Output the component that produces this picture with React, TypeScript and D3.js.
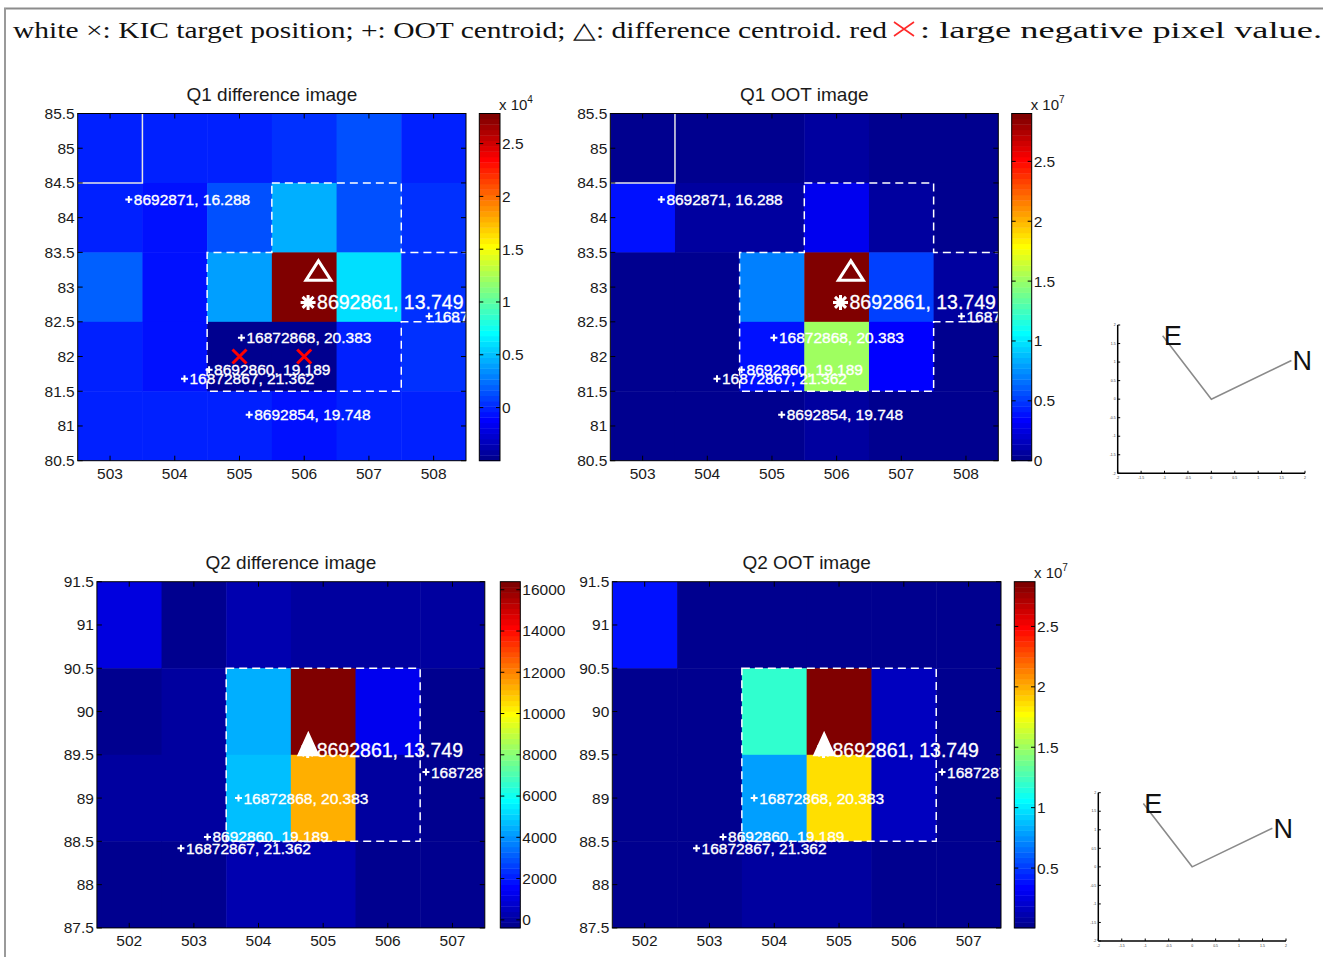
import React from 'react';
import * as d3 from 'd3';

// ---------- data ----------
const TITLE_PART1 = 'white \u00d7: KIC target position; +: OOT centroid; \u25b3: difference centroid. red';
const TITLE_PART2 = ': large negative pixel value.';

const Q1_COLS = [503, 504, 505, 506, 507, 508];
const Q1_ROWS = [85, 84, 83, 82, 81];
const Q1_YTICKS = [80.5, 81, 81.5, 82, 82.5, 83, 83.5, 84, 84.5, 85, 85.5];

const Q1_DIFF = [
  [-100, -300, -200, 200, 1200, -200],
  [-300, -500, 1135, 4320, 1440, 210],
  [1800, -920, 4060, 27850, 6270, 520],
  [-400, -700, -4520, -5030, -100, 500],
  [-400, 0, -400, -900, -300, -300],
];
const Q1_OOT = [
  [0.03e7, 0.03e7, 0.03e7, 0.06e7, 0.03e7, 0.02e7],
  [0.40e7, 0.06e7, 0.05e7, 0.30e7, 0.08e7, 0.04e7],
  [0.02e7, 0.03e7, 0.68e7, 2.90e7, 0.50e7, 0.06e7],
  [0.02e7, 0.03e7, 0.38e7, 1.53e7, 0.34e7, 0.04e7],
  [0.01e7, 0.02e7, 0.03e7, 0.05e7, 0.03e7, 0.0],
];

const Q2_COLS = [502, 503, 504, 505, 506, 507];
const Q2_ROWS = [91, 90, 89, 88];
const Q2_YTICKS = [87.5, 88, 88.5, 89, 89.5, 90, 90.5, 91, 91.5];

const Q2_DIFF = [
  [950, -390, 150, 60, -120, -120],
  [-380, 60, 4570, 16390, 1370, -300],
  [60, 0, 4600, 11230, 0, -200],
  [-200, -300, 300, 300, -300, -300],
];
const Q2_OOT = [
  [0.40e7, 0.04e7, 0.03e7, 0.03e7, 0.02e7, 0.02e7],
  [0.03e7, 0.02e7, 1.21e7, 2.87e7, 0.18e7, 0.02e7],
  [0.03e7, 0.02e7, 0.81e7, 1.85e7, 0.18e7, 0.02e7],
  [0.005e7, 0.02e7, 0.05e7, 0.09e7, 0.02e7, 0.01e7],
];

const Q1_DIFF_TICKS = [0, 0.5, 1, 1.5, 2, 2.5];
const Q1_OOT_TICKS = [0, 0.5, 1, 1.5, 2, 2.5];
const Q2_DIFF_TICKS = [0, 2000, 4000, 6000, 8000, 10000, 12000, 14000, 16000];
const Q2_OOT_TICKS = [0.5, 1, 1.5, 2, 2.5];

const Q1_STARS = [
  { kic: '8692871', mag: '16.288', x: 503.29, y: 84.26 },
  { kic: '16872868', mag: '20.383', x: 505.03, y: 82.27 },
  { kic: '8692860', mag: '19.189', x: 504.53, y: 81.81 },
  { kic: '16872867', mag: '21.362', x: 504.15, y: 81.68 },
  { kic: '8692854', mag: '19.748', x: 505.15, y: 81.16 },
  { kic: '16872872', mag: '20.520', x: 507.93, y: 82.58 },
];
const Q1_TARGET = { kic: '8692861', mag: '13.749', x: 506.06, y: 82.78 };
const Q1_CENTROID = { x: 506.22, y: 83.22 };
const Q1_NEG = [{ x: 505, y: 82 }, { x: 506, y: 82 }];
const Q1_MASK_EDGE = [[502.5, 84.5], [503.5, 84.5], [503.5, 85.5]];
const Q1_APERTURE = [
  [505.5, 84.5], [507.5, 84.5], [507.5, 83.5], [509.5, 83.5], [509.5, 82.5],
  [507.5, 82.5], [507.5, 81.5], [504.5, 81.5], [504.5, 83.5], [505.5, 83.5],
];

const Q2_STARS = [
  { kic: '16872868', mag: '20.383', x: 503.69, y: 89.0 },
  { kic: '8692860', mag: '19.189', x: 503.21, y: 88.55 },
  { kic: '16872867', mag: '21.362', x: 502.8, y: 88.42 },
  { kic: '16872872', mag: '20.520', x: 506.59, y: 89.3 },
];
const Q2_TARGET = { kic: '8692861', mag: '13.749', x: 504.76, y: 89.55 };
const Q2_CENTROID = { x: 504.77, y: 89.6 };
const Q2_APERTURE = [[503.5, 90.5], [506.5, 90.5], [506.5, 88.5], [503.5, 88.5]];

const COMPASS_TICKS = [-2, -1.5, -1, -0.5, 0, 0.5, 1, 1.5, 2];
const COMPASS_E = [-1.04, 1.71];
const COMPASS_N = [1.71, 1.04];

// ---------- helpers ----------
function jetColormap(m: number): string[] {
  const n = Math.ceil(m / 4);
  const u: number[] = [];
  for (let i = 1; i <= n; i++) u.push(i / n);
  for (let i = 1; i <= n - 1; i++) u.push(1);
  for (let i = n; i >= 1; i--) u.push(i / n);
  const g0 = Math.ceil(n / 2) - (m % 4 === 1 ? 1 : 0);
  const r = new Array(m).fill(0), g = new Array(m).fill(0), b = new Array(m).fill(0);
  u.forEach((val, i) => {
    const gi = g0 + i, ri = gi + n, bi = gi - n;
    if (gi >= 0 && gi < m) g[gi] = val;
    if (ri >= 0 && ri < m) r[ri] = val;
    if (bi >= 0 && bi < m) b[bi] = val;
  });
  return r.map((_, i) => d3.rgb(r[i] * 255, g[i] * 255, b[i] * 255).formatHex());
}
const JET = jetColormap(64);

const SANS = '"Liberation Sans", Arial, Helvetica, sans-serif';
const SERIF = '"Liberation Serif", "Times New Roman", serif';
const TXT = '#1a1a1a';

type Star = { kic: string; mag: string; x: number; y: number };

interface PanelProps {
  id: string;
  title: string;
  left: number; right: number; top: number; bottom: number;
  cbLeft: number; cbRight: number;
  cols: number[]; rows: number[]; yTicks: number[];
  values: number[][];
  cbTicks: number[]; cbScale: number; expo?: string;
  stars: Star[]; target: Star; centroid: { x: number; y: number };
  centroidFilled?: boolean;
  neg?: { x: number; y: number }[];
  maskEdge?: number[][];
  aperture: number[][];
}

function Panel(p: PanelProps) {
  const x = d3.scaleLinear().domain([p.cols[0] - 0.5, p.cols[p.cols.length - 1] + 0.5]).range([p.left, p.right]);
  const y = d3.scaleLinear().domain([p.rows[p.rows.length - 1] - 0.5, p.rows[0] + 0.5]).range([p.bottom, p.top]);
  const flat = p.values.flat();
  const [vmin, vmax] = d3.extent(flat) as [number, number];
  const color = d3.scaleQuantize<string>().domain([vmin, vmax]).range(JET);
  const cb = d3.scaleLinear().domain([vmin, vmax]).range([p.bottom, p.top]);
  const levels = d3.range(JET.length);
  const line = d3.line<number[]>().x((d) => x(d[0])).y((d) => y(d[1]));
  const tl = 5;
  const clipId = `clip-${p.id}`;
  const cx = x(p.centroid.x), cy = y(p.centroid.y);
  const tx = x(p.target.x), ty = y(p.target.y);
  return (
    <g>
      <defs>
        <clipPath id={clipId}>
          <rect x={p.left} y={p.top} width={p.right - p.left} height={p.bottom - p.top} />
        </clipPath>
      </defs>
      <text x={(p.left + p.right) / 2} y={p.top - 13} textAnchor="middle" fontFamily={SANS} fontSize={19} fill={TXT}>{p.title}</text>
      <g clipPath={`url(#${clipId})`}>
        {p.values.map((row, ri) =>
          row.map((v, ci) => (
            <rect key={`${ri}-${ci}`} x={x(p.cols[ci] - 0.5)} y={y(p.rows[ri] + 0.5)}
              width={x(p.cols[ci] + 0.5) - x(p.cols[ci] - 0.5) + 0.5}
              height={y(p.rows[ri] - 0.5) - y(p.rows[ri] + 0.5) + 0.5}
              fill={color(v)} />
          ))
        )}
        {p.maskEdge && <path d={line(p.maskEdge) || ''} fill="none" stroke="#e6e6e6" strokeWidth={1.5} />}
        <path d={(line(p.aperture) || '') + 'Z'} fill="none" stroke="#ffffff" strokeWidth={1.5} strokeDasharray="8,5" />
        {p.stars.map((s, i) => (
          <g key={i}>
            <path d={`M${x(s.x) - 3.5},${y(s.y)}h7M${x(s.x)},${y(s.y) - 3.5}v7`} stroke="#fff" strokeWidth={2} />
            <text x={x(s.x) + 5} y={y(s.y)} dy="0.35em" fontFamily={SANS} fontSize={15.5} fill="#fff" stroke="#fff" strokeWidth={0.35}>{`${s.kic}, ${s.mag}`}</text>
          </g>
        ))}
        {p.centroidFilled ? (
          <path d={`M${cx},${cy - 13}L${cx + 10},${cy + 9}L${cx - 10},${cy + 9}Z`} fill="#fff" stroke="#fff" strokeWidth={2} />
        ) : (
          <path d={`M${cx},${cy - 11}L${cx + 12.5},${cy + 8.5}L${cx - 12.5},${cy + 8.5}Z`} fill="none" stroke="#fff" strokeWidth={3} strokeLinejoin="miter" />
        )}
        <path d={`M${tx - 7.5},${ty}H${tx + 7.5}M${tx},${ty - 7.5}V${ty + 7.5}M${tx - 5.5},${ty - 5.5}L${tx + 5.5},${ty + 5.5}M${tx - 5.5},${ty + 5.5}L${tx + 5.5},${ty - 5.5}`} stroke="#fff" strokeWidth={3} />
        <text x={tx + 9} y={ty} dy="0.35em" fontFamily={SANS} fontSize={19.5} fill="#fff" stroke="#fff" strokeWidth={0.3}>{`${p.target.kic}, ${p.target.mag}`}</text>
        {p.neg && p.neg.map((n, i) => {
          const nx = x(n.x), ny = y(n.y);
          return <path key={i} d={`M${nx - 7},${ny - 7}L${nx + 7},${ny + 7}M${nx - 7},${ny + 7}L${nx + 7},${ny - 7}`} stroke="#ff0000" strokeWidth={3} />;
        })}
      </g>
      <rect x={p.left} y={p.top} width={p.right - p.left} height={p.bottom - p.top} fill="none" stroke="#000" strokeWidth={1} />
      {p.cols.map((c) => (
        <g key={c}>
          <line x1={x(c)} x2={x(c)} y1={p.bottom} y2={p.bottom - tl} stroke="#000" />
          <line x1={x(c)} x2={x(c)} y1={p.top} y2={p.top + tl} stroke="#000" />
          <text x={x(c)} y={p.bottom + 18} textAnchor="middle" fontFamily={SANS} fontSize={15.5} fill={TXT}>{c}</text>
        </g>
      ))}
      {p.yTicks.map((t) => (
        <g key={t}>
          <line x1={p.left} x2={p.left + tl} y1={y(t)} y2={y(t)} stroke="#000" />
          <line x1={p.right} x2={p.right - tl} y1={y(t)} y2={y(t)} stroke="#000" />
          <text x={p.left - 3} y={y(t)} dy="0.35em" textAnchor="end" fontFamily={SANS} fontSize={15.5} fill={TXT}>{t}</text>
        </g>
      ))}
      {levels.map((k) => {
        const v0 = vmin + ((vmax - vmin) * k) / JET.length;
        const v1 = vmin + ((vmax - vmin) * (k + 1)) / JET.length;
        return <rect key={k} x={p.cbLeft} y={cb(v1)} width={p.cbRight - p.cbLeft} height={cb(v0) - cb(v1) + 0.4} fill={JET[k]} />;
      })}
      <rect x={p.cbLeft} y={p.top} width={p.cbRight - p.cbLeft} height={p.bottom - p.top} fill="none" stroke="#000" strokeWidth={1} />
      {p.cbTicks.map((t) => {
        const yy = cb(t * p.cbScale);
        return (
          <g key={t}>
            <line x1={p.cbLeft} x2={p.cbLeft + 4} y1={yy} y2={yy} stroke="#000" />
            <line x1={p.cbRight} x2={p.cbRight - 4} y1={yy} y2={yy} stroke="#000" />
            <text x={p.cbRight + 2} y={yy} dy="0.35em" fontFamily={SANS} fontSize={15.5} fill={TXT}>{t}</text>
          </g>
        );
      })}
      {p.expo && (
        <text x={p.cbRight - 1} y={p.top - 4} fontFamily={SANS} fontSize={15} fill={TXT}>
          x 10<tspan fontSize={10} dy={-7}>{p.expo}</tspan>
        </text>
      )}
    </g>
  );
}

function Compass({ left, right, top, bottom }: { left: number; right: number; top: number; bottom: number }) {
  const x = d3.scaleLinear().domain([-2, 2]).range([left, right]);
  const y = d3.scaleLinear().domain([-2, 2]).range([bottom, top]);
  return (
    <g>
      <line x1={left} x2={left} y1={top} y2={bottom} stroke="#000" strokeWidth={1.5} />
      <line x1={left} x2={right} y1={bottom} y2={bottom} stroke="#000" strokeWidth={1.5} />
      {COMPASS_TICKS.map((t) => (
        <g key={t}>
          <line x1={x(t)} x2={x(t)} y1={bottom} y2={bottom - 2.5} stroke="#000" />
          <line x1={left} x2={left + 2.5} y1={y(t)} y2={y(t)} stroke="#000" />
          <text x={x(t)} y={bottom + 6} textAnchor="middle" fontFamily={SANS} fontSize={3.5} fill="#333">{t}</text>
          <text x={left - 2} y={y(t)} dy="0.35em" textAnchor="end" fontFamily={SANS} fontSize={3.5} fill="#333">{t}</text>
        </g>
      ))}
      <path d={`M${x(COMPASS_E[0])},${y(COMPASS_E[1])}L${x(0)},${y(0)}L${x(COMPASS_N[0])},${y(COMPASS_N[1])}`} fill="none" stroke="#8a8a8a" strokeWidth={1.6} />
      <text x={x(COMPASS_E[0]) + 1} y={y(COMPASS_E[1])} dy="0.36em" fontFamily={SANS} fontSize={27} fill="#111">E</text>
      <text x={x(COMPASS_N[0]) + 1} y={y(COMPASS_N[1])} dy="0.36em" fontFamily={SANS} fontSize={27} fill="#111">N</text>
    </g>
  );
}

export default function App() {
  return (
    <svg width={1323} height={957} viewBox="0 0 1323 957" style={{ position: 'absolute', left: 0, top: 0, background: '#fff' }}>
      <rect x={0} y={0} width={1323} height={957} fill="#fff" />
      <line x1={4} x2={1323} y1={8.5} y2={8.5} stroke="#8c8c8c" strokeWidth={2} />
      <line x1={5} x2={5} y1={8} y2={957} stroke="#9a9a9a" strokeWidth={2} />
      <text x={13} y={38} fontFamily={SERIF} fontSize={23} fill="#111" textLength={874} lengthAdjust="spacingAndGlyphs">{TITLE_PART1}</text>
      <path d="M894,22L914,36M894,36L914,22" stroke="#ff2a2a" strokeWidth={1.6} />
      <text x={920} y={38} fontFamily={SERIF} fontSize={23} fill="#111" textLength={402} lengthAdjust="spacingAndGlyphs">{TITLE_PART2}</text>

      <Panel id="p1" title="Q1 difference image" left={77.7} right={466} top={113.5} bottom={460.7} cbLeft={479.3} cbRight={500}
        cols={Q1_COLS} rows={Q1_ROWS} yTicks={Q1_YTICKS} values={Q1_DIFF} cbTicks={Q1_DIFF_TICKS} cbScale={1e4} expo="4"
        stars={Q1_STARS} target={Q1_TARGET} centroid={Q1_CENTROID} neg={Q1_NEG} maskEdge={Q1_MASK_EDGE} aperture={Q1_APERTURE} />
      <Panel id="p2" title="Q1 OOT image" left={610.3} right={998.3} top={113.5} bottom={460.7} cbLeft={1011.7} cbRight={1031.7}
        cols={Q1_COLS} rows={Q1_ROWS} yTicks={Q1_YTICKS} values={Q1_OOT} cbTicks={Q1_OOT_TICKS} cbScale={1e7} expo="7"
        stars={Q1_STARS} target={Q1_TARGET} centroid={Q1_CENTROID} maskEdge={Q1_MASK_EDGE} aperture={Q1_APERTURE} />
      <Panel id="p3" title="Q2 difference image" left={96.9} right={484.8} top={581.7} bottom={927.9} cbLeft={500.3} cbRight={520.3}
        cols={Q2_COLS} rows={Q2_ROWS} yTicks={Q2_YTICKS} values={Q2_DIFF} cbTicks={Q2_DIFF_TICKS} cbScale={1}
        stars={Q2_STARS} target={Q2_TARGET} centroid={Q2_CENTROID} centroidFilled aperture={Q2_APERTURE} />
      <Panel id="p4" title="Q2 OOT image" left={612.3} right={1001} top={581.7} bottom={927.9} cbLeft={1014.3} cbRight={1035}
        cols={Q2_COLS} rows={Q2_ROWS} yTicks={Q2_YTICKS} values={Q2_OOT} cbTicks={Q2_OOT_TICKS} cbScale={1e7} expo="7"
        stars={Q2_STARS} target={Q2_TARGET} centroid={Q2_CENTROID} centroidFilled aperture={Q2_APERTURE} />

      <Compass left={1117.7} right={1305} top={325} bottom={473.3} />
      <Compass left={1098.3} right={1286} top={792.7} bottom={941} />
    </svg>
  );
}
